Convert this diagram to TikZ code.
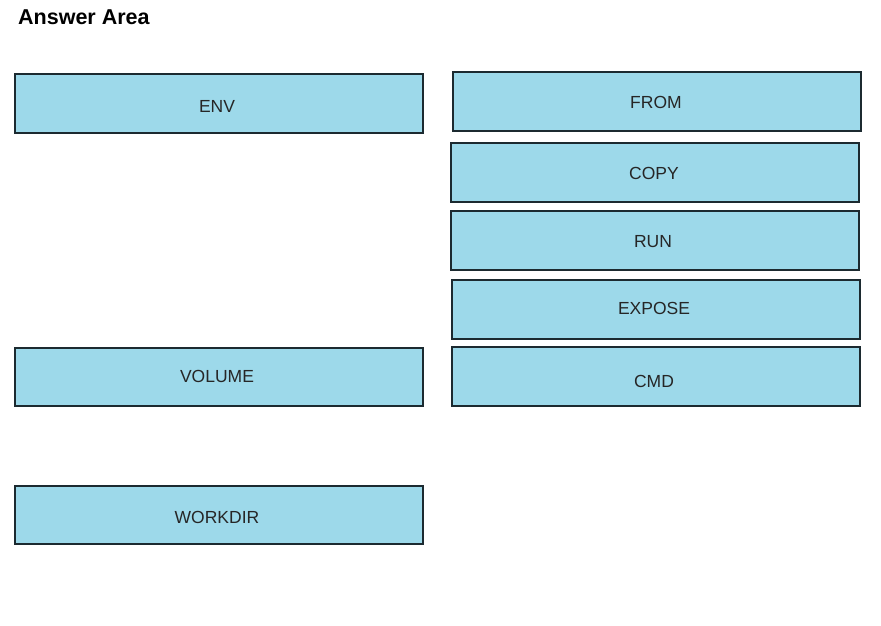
\documentclass[tikz,border=0pt]{standalone}
\usepackage{fontspec}
\setmainfont{Liberation Sans}
\definecolor{boxfill}{HTML}{9DD9EA}
\definecolor{boxline}{HTML}{1C2A30}
\begin{document}
\begin{tikzpicture}[x=1pt,y=-1pt,
  cell/.style={draw=boxline,fill=boxfill,line width=1.1pt},
  lbl/.style={font=\fontsize{17.5}{20}\selectfont,text=black!85}]
\useasboundingbox[fill=white] (0,0) rectangle (881,626);
\node[anchor=base west,font=\bfseries\fontsize{21.5}{24}\selectfont,inner sep=0pt] (title) at (18,25) {Answer Area};
% left column
\draw[cell] (15,74) rectangle (423,133);
\node[lbl] (env) at (217,106) {ENV};
\draw[cell] (15,348) rectangle (423,406);
\node[lbl] (volume) at (217,376) {VOLUME};
\draw[cell] (15,486) rectangle (423,544);
\node[lbl] (workdir) at (217,517) {WORKDIR};
% right column
\draw[cell] (453,72) rectangle (861,131);
\node[lbl] (from) at (656,102) {FROM};
\draw[cell] (451,143) rectangle (859,202);
\node[lbl] (copy) at (654,173) {COPY};
\draw[cell] (451,211) rectangle (859,270);
\node[lbl] (run) at (653,242) {RUN};
\draw[cell] (452,280) rectangle (860,339);
\node[lbl] (expose) at (654,308) {EXPOSE};
\draw[cell] (452,347) rectangle (860,406);
\node[lbl] (cmd) at (654,381) {CMD};
\end{tikzpicture}
\end{document}
